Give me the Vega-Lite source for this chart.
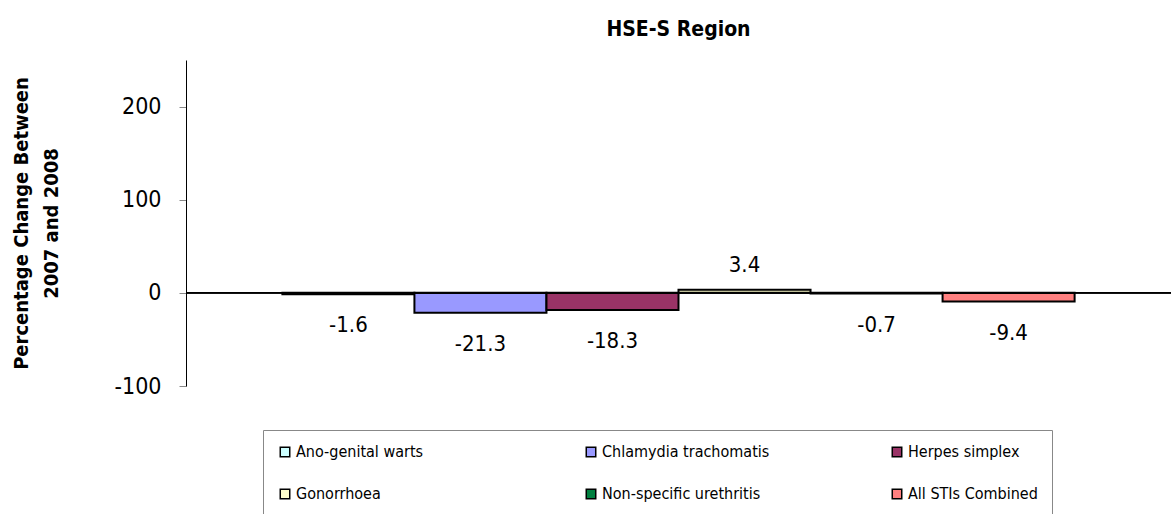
{
  "$schema": "https://vega.github.io/schema/vega-lite/v6.json",
  "autosize": {"type": "none"},
  "padding": {"left": 186, "top": 60, "right": 0, "bottom": 128},
  "width": 985,
  "height": 326,
  "background": "white",
  "title": {
    "text": "HSE-S Region",
    "font": "'DejaVu Sans Condensed', 'Liberation Sans', sans-serif",
    "fontSize": 21,
    "fontWeight": "bold",
    "color": "black",
    "anchor": "middle",
    "frame": "group",
    "offset": 20
  },
  "config": {
    "view": {"stroke": null},
    "font": "'DejaVu Sans Condensed', 'Liberation Sans', sans-serif"
  },
  "data": {
    "values": [
      {"series": "Ano-genital warts", "value": -1.6, "label": "-1.6"},
      {"series": "Chlamydia trachomatis", "value": -21.3, "label": "-21.3"},
      {"series": "Herpes simplex", "value": -18.3, "label": "-18.3"},
      {"series": "Gonorrhoea", "value": 3.4, "label": "3.4"},
      {"series": "Non-specific urethritis", "value": -0.7, "label": "-0.7"},
      {"series": "All STIs Combined", "value": -9.4, "label": "-9.4"}
    ]
  },
  "encoding": {
    "x": {
      "field": "series",
      "type": "nominal",
      "sort": null,
      "scale": {"paddingInner": 0, "paddingOuter": 0.73},
      "axis": null
    },
    "y": {
      "field": "value",
      "type": "quantitative",
      "scale": {"domain": [-100, 250], "nice": false, "zero": false},
      "axis": {
        "values": [-100, 0, 100, 200],
        "labelExpr": "'' + datum.value",
        "title": ["Percentage Change Between", "2007 and 2008"],
        "titleFont": "'DejaVu Sans Condensed', 'Liberation Sans', sans-serif",
        "titleFontSize": 20,
        "titleFontWeight": "bold",
        "titleColor": "black",
        "titleLineHeight": 30,
        "titlePadding": 53,
        "labelFont": "'DejaVu Sans Condensed', 'Liberation Sans', sans-serif",
        "labelFontSize": 23,
        "labelColor": "black",
        "labelPadding": 18,
        "tickColor": "#888888",
        "tickSize": 7,
        "domainColor": "black",
        "domainWidth": 1,
        "grid": false
      }
    }
  },
  "layer": [
    {
      "mark": {"type": "bar", "stroke": "black", "strokeWidth": 2},
      "encoding": {
        "color": {
          "field": "series",
          "type": "nominal",
          "sort": null,
          "scale": {
            "domain": ["Ano-genital warts", "Chlamydia trachomatis", "Herpes simplex", "Gonorrhoea", "Non-specific urethritis", "All STIs Combined"],
            "range": ["#CCFFFF", "#9999FF", "#993366", "#FFFFCC", "#008040", "#FF8080"]
          },
          "legend": {
            "title": null,
            "orient": "none",
            "legendX": 77,
            "legendY": 370,
            "direction": "horizontal",
            "columns": 3,
            "gridAlign": "all",
            "columnPadding": 119,
            "rowPadding": 26,
            "padding": 14,
            "strokeColor": "#888888",
            "fillColor": "white",
            "symbolType": "square",
            "symbolSize": 90,
            "symbolStrokeColor": "black",
            "symbolStrokeWidth": 1.5,
            "symbolOpacity": 1,
            "labelFont": "'DejaVu Sans Condensed', 'Liberation Sans', sans-serif",
            "labelFontSize": 16,
            "labelColor": "black",
            "labelOffset": 3,
            "labelLimit": 300
          }
        }
      }
    },
    {
      "mark": {"type": "rule", "color": "black", "strokeWidth": 1},
      "encoding": {"y": {"datum": 0}, "x": null}
    },
    {
      "transform": [{"filter": "datum.value < 0"}],
      "mark": {"type": "text", "baseline": "middle", "dy": 31, "fontSize": 22, "color": "black"},
      "encoding": {"text": {"field": "label", "type": "nominal"}}
    },
    {
      "transform": [{"filter": "datum.value >= 0"}],
      "mark": {"type": "text", "baseline": "middle", "dy": -25, "fontSize": 22, "color": "black"},
      "encoding": {"text": {"field": "label", "type": "nominal"}}
    }
  ]
}
